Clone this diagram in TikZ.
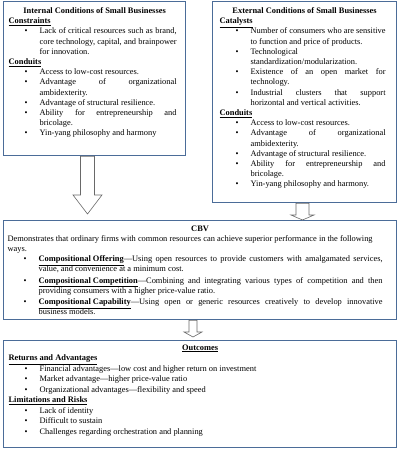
\documentclass[tikz,border=0pt]{standalone}
\usepackage{fontspec}
\setmainfont{Liberation Serif}
\usepackage{enumitem}
\usepackage{tikz}
\usetikzlibrary{calc}
\definecolor{boxblue}{RGB}{75,108,152}
\definecolor{arrowgray}{RGB}{105,105,105}
\tikzset{condbox/.style={draw=boxblue, line width=1.2pt, anchor=north west, inner xsep=5pt, inner ysep=6pt, font=\fontsize{8.4}{10.2}\selectfont}}
\tikzset{blockarrow/.style={draw=arrowgray, fill=white, line width=0.6pt, line join=miter}}
\setlist[itemize]{label=\textbullet, leftmargin=31pt, labelsep=12pt, itemsep=0pt, topsep=0pt, parsep=0pt, partopsep=0pt}
\newcommand{\sectitle}[1]{\textbf{\underline{#1}}\par}
% x, from node, to node, gap, shaft half width, head half width, head length
\newcommand{\blockdown}[7]{%
\draw[blockarrow] let \p1=(#2.south), \p2=(#3.north) in
(#1pt-#5pt,\y1) -- (#1pt+#5pt,\y1) -- (#1pt+#5pt,\y2+#4pt+#7pt) -- (#1pt+#6pt,\y2+#4pt+#7pt)
-- (#1pt,\y2+#4pt) -- (#1pt-#6pt,\y2+#4pt+#7pt) -- (#1pt-#5pt,\y2+#4pt+#7pt) -- cycle;}
\hbadness=10000
\hfuzz=4pt
\hyphenpenalty=10000

\begin{document}
\begin{tikzpicture}[x=1pt, y=-1pt]
\useasboundingbox (0,0) rectangle (400,450);

% conditions
\node[condbox] (inner) at (3,1) {\parbox[t][142pt][t]{172pt}{%
\centerline{\textbf{Internal Conditions of Small Businesses}}
\sectitle{Constraints}
\begin{itemize}[rightmargin=4pt]
\item Lack of critical resources such as brand,\linebreak core technology, capital, and brainpower\linebreak for innovation.
\end{itemize}
\sectitle{Conduits}
\begin{itemize}[rightmargin=4pt]
\item Access to low-cost resources.
\item Advantage of organizational\linebreak ambidexterity.
\item Advantage of structural resilience.
\item Ability for entrepreneurship and\linebreak bricolage.
\item Yin-yang philosophy and harmony
\end{itemize}}};

\node[condbox, inner xsep=7pt] (outer) at (212,1) {\parbox[t][189pt][t]{170pt}{%
\centerline{\textbf{External Conditions of Small Businesses}}
\sectitle{Catalysts}
\begin{itemize}[rightmargin=4pt]
\item Number of consumers who are sensitive\linebreak to function and price of products.
\item Technological\newline standardization/modularization.
\item Existence of an open market for\linebreak technology.
\item Industrial clusters that support\linebreak horizontal and vertical activities.
\end{itemize}
\sectitle{Conduits}
\begin{itemize}[rightmargin=4pt]
\item Access to low-cost resources.
\item Advantage of organizational\linebreak ambidexterity.
\item Advantage of structural resilience.
\item Ability for entrepreneurship and\linebreak bricolage.
\item Yin-yang philosophy and harmony.
\end{itemize}}};

% CBV
\node[condbox, inner xsep=4pt, inner ysep=5pt] (cbv) at (3,220) {\parbox[t][89pt][t]{385pt}{%
\centerline{\textbf{CBV}}
Demonstrates that ordinary firms with common resources can achieve superior performance in the following\\ ways.
\begin{itemize}[rightmargin=10pt, itemsep=1pt]
\item \textbf{\underline{Compositional Offering}}---Using open resources to provide customers with amalgamated services,\linebreak value, and convenience at a minimum cost.
\item \textbf{\underline{Compositional Competition}}---Combining and integrating various types of competition and then\linebreak providing consumers with a higher price-value ratio.
\item \textbf{\underline{Compositional Capability}}---Using open or generic resources creatively to develop innovative\linebreak business models.
\end{itemize}}};

% outcomes
\node[condbox, inner ysep=4pt, font=\fontsize{8.4}{10.5}\selectfont] (outcomes) at (3,340) {\parbox[t][99pt][t]{383pt}{%
\centerline{\textbf{\underline{Outcomes}}}
\sectitle{Returns and Advantages}
\begin{itemize}
\item Financial advantages---low cost and higher return on investment
\item Market advantage---higher price-value ratio
\item Organizational advantages---flexibility and speed
\end{itemize}
\sectitle{Limitations and Risks}
\begin{itemize}
\item Lack of identity
\item Difficult to sustain
\item Challenges regarding orchestration and planning
\end{itemize}}};

% arrows
\blockdown{87.5}{inner}{cbv}{6}{7}{14.5}{19}
\blockdown{302.5}{outer}{cbv}{0}{6.5}{11.5}{5}
\blockdown{193}{cbv}{outcomes}{3}{4}{9}{5}
\end{tikzpicture}
\end{document}
